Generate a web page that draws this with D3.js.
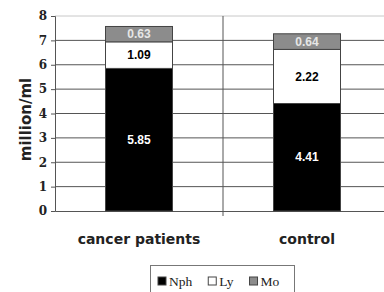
<!DOCTYPE html>
<html><head><meta charset="utf-8">
<script src="https://cdn.jsdelivr.net/npm/d3@7"></script>
<style>body{margin:0;background:#fff}svg{display:block}</style>
</head><body>
<script>
const categories = ["cancer patients", "control"];
const seriesNames = ["Nph", "Ly", "Mo"];
const nph = [5.85, 4.41];
const ly = [1.09, 2.22];
const mo = [0.63, 0.64];
const yTicks = [0,1,2,3,4,5,6,7,8];

const W = 384, H = 292;
const m = {left: 55, right: -7, top: 16, bottom: 81};
const svg = d3.select("body").append("svg").attr("width", W).attr("height", H);
const x = d3.scaleBand().domain(categories).range([m.left, W - m.right]).paddingInner(0).paddingOuter(0);
const y = d3.scaleLinear().domain([0, 8]).range([H - m.bottom, m.top]);
const colors = {Nph: "#000", Ly: "#fff", Mo: "#8c8c8c"};
const textColors = {Nph: "#fff", Ly: "#000", Mo: "#e6e6e6"};

// gridlines
svg.append("g").selectAll("line").data(yTicks.filter(d => d > 0)).join("line")
  .attr("x1", m.left).attr("x2", W)
  .attr("y1", d => y(d)).attr("y2", d => y(d))
  .attr("stroke", d => d === 8 ? "#c8c8c8" : "#555").attr("stroke-width", 1);

// y axis
const yAxis = svg.append("g").attr("transform", `translate(${m.left},0)`)
  .call(d3.axisLeft(y).tickValues(yTicks).tickSize(4).tickFormat(d3.format("d")));
yAxis.select(".domain").attr("stroke", "#555");
yAxis.selectAll(".tick line").attr("stroke", "#555");
yAxis.selectAll("text").attr("font-family", "DejaVu Serif, serif").attr("font-weight", "bold").attr("font-size", 12).attr("fill", "#222").attr("dx", -1);

// x axis
const xAxis = svg.append("g").attr("transform", `translate(0,${y(0)})`)
  .call(d3.axisBottom(x).tickSize(0).tickPadding(0));
xAxis.select(".domain").attr("stroke", "#555");
xAxis.selectAll("text").remove();
// category dividers
svg.append("g").selectAll("line").data(categories.slice(1)).join("line")
  .attr("x1", d => x(d)).attr("x2", d => x(d))
  .attr("y1", m.top).attr("y2", y(0) + 5).attr("stroke", "#555");

// stacked bars
const data = categories.map((c, i) => ({cat: c, Nph: nph[i], Ly: ly[i], Mo: mo[i]}));
const stack = d3.stack().keys(seriesNames)(data);
const barW = 67;
const g = svg.append("g");
stack.forEach(layer => {
  const key = layer.key;
  layer.forEach(d => {
    const cx = x(d.data.cat) + x.bandwidth() / 2;
    g.append("rect")
      .attr("x", cx - barW / 2).attr("width", barW)
      .attr("y", y(d[1])).attr("height", y(d[0]) - y(d[1]))
      .attr("fill", colors[key]).attr("stroke", "#444").attr("stroke-width", 1);
    g.append("text")
      .attr("x", cx).attr("y", (y(d[0]) + y(d[1])) / 2)
      .attr("dy", "0.35em").attr("text-anchor", "middle")
      .attr("font-family", "Liberation Sans, Arial, sans-serif").attr("font-weight", "bold")
      .attr("font-size", 12).attr("fill", textColors[key])
      .text((d[1] - d[0]).toFixed(2));
  });
});

// category labels
svg.append("g").selectAll("text").data(categories).join("text")
  .attr("x", d => x(d) + x.bandwidth() / 2).attr("y", 244)
  .attr("text-anchor", "middle").attr("font-family", "DejaVu Sans, sans-serif")
  .attr("font-weight", "bold").attr("font-size", 14).attr("fill", "#222").text(d => d);

// y title
svg.append("text").attr("transform", `translate(31,${(y(0)+y(8))/2 + 6}) rotate(-90)`)
  .attr("text-anchor", "middle").attr("font-family", "DejaVu Sans, sans-serif")
  .attr("font-weight", "bold").attr("font-size", 15).attr("fill", "#222").text("million/ml");

// legend
const lg = svg.append("g");
lg.append("rect").attr("x", 150.5).attr("y", 265.5).attr("width", 144).attr("height", 30)
  .attr("fill", "#fff").attr("stroke", "#777");
let lx = 158;
seriesNames.forEach(k => {
  lg.append("rect").attr("x", lx).attr("y", 277).attr("width", 8).attr("height", 8)
    .attr("fill", colors[k]).attr("stroke", "#444");
  const t = lg.append("text").attr("x", lx + 11).attr("y", 286)
    .attr("font-family", "Liberation Serif, Times New Roman, serif").attr("font-size", 13.5).attr("fill", "#222").text(k);
  lx += 11 + t.node().getComputedTextLength() + 16;
});
</script>
</body></html>
